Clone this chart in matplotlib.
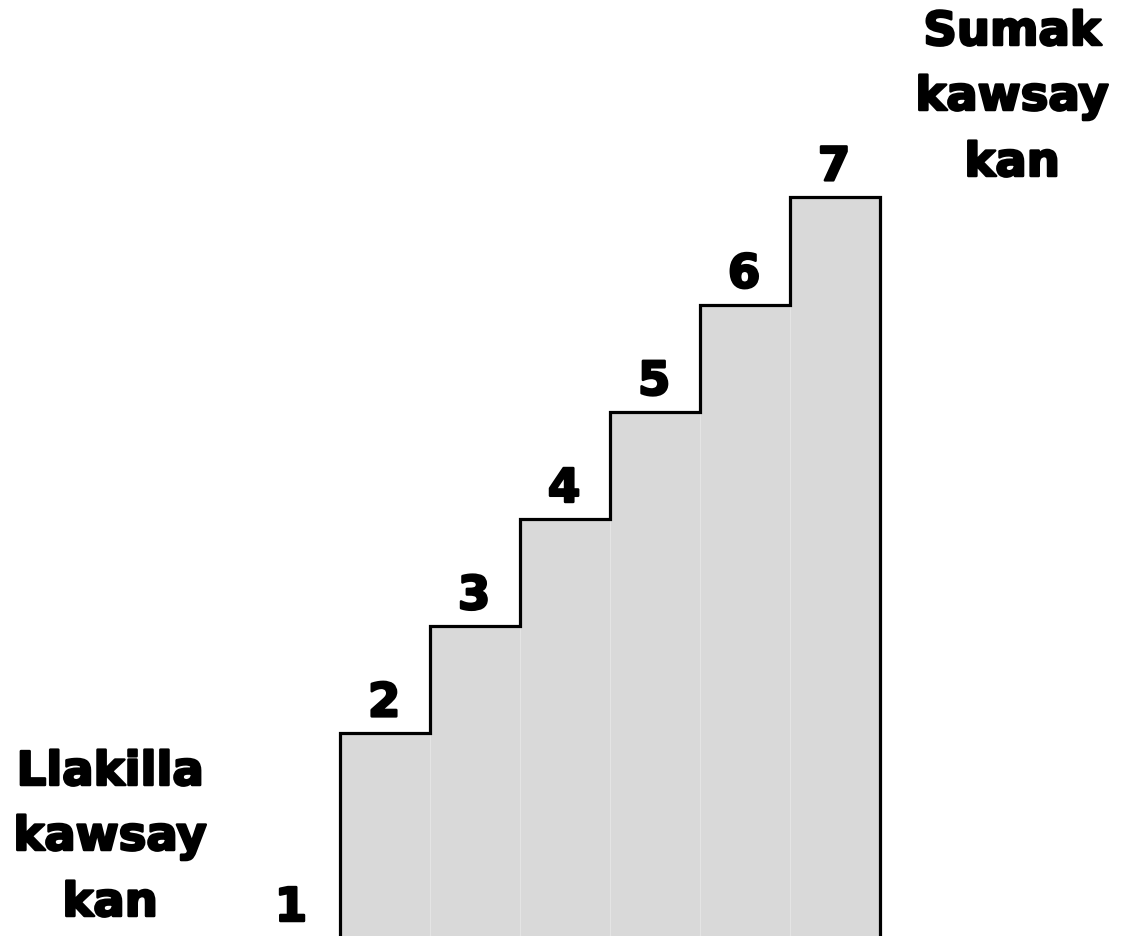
import matplotlib
matplotlib.use("Agg")
import matplotlib.pyplot as plt
import matplotlib.patheffects as pe

steps = [1, 2, 3, 4, 5, 6, 7]
levels = [1, 2, 3, 4, 5, 6, 7]
step_labels = ["1", "2", "3", "4", "5", "6", "7"]
left_lines = ["Llakilla", "kawsay", "kan"]
right_lines = ["Sumak", "kawsay", "kan"]

W, H = 1122, 937
fig = plt.figure(figsize=(W / 100, H / 100), dpi=100)
ax = fig.add_axes([0, 0, 1, 1])
ybase = 0.11
ax.set_xlim(-2.278, 10.189)
ax.set_ylim(ybase, 8.85)
ax.axis("off")

fam = "DejaVu Sans"
fs = 33.5
heavy = [pe.withStroke(linewidth=1.8, foreground="black")]

# bars for steps 2..7
bx = steps[1:]
bh = [l - ybase for l in levels[1:]]
ax.bar(bx, bh, width=1.0, bottom=ybase, color="#d9d9d9", edgecolor="#e4e4e4",
       linewidth=0.8, zorder=1)

# outline of the staircase
px = [bx[0] - 0.5]
py = [ybase]
for s, l in zip(bx, levels[1:]):
    px += [s - 0.5, s + 0.5]
    py += [l, l]
px.append(bx[-1] + 0.5)
py.append(ybase)
ax.plot(px, py, color="black", linewidth=2.3, solid_joinstyle="miter",
        solid_capstyle="butt", zorder=3)

# step number labels (baseline ~16 px above each step top)
unit_px = H / (8.85 - ybase)
for s, l, t in zip(steps, levels, step_labels):
    if s == 1:
        ax.text(291 / W, 1 - 922 / H, t, transform=ax.transAxes, ha="center",
                va="baseline", fontsize=fs, fontweight="bold", family=fam,
                zorder=4, path_effects=heavy)
    else:
        ax.text(s - 0.01, l + 17 / unit_px, t, ha="center", va="baseline",
                fontsize=fs, fontweight="bold", family=fam, zorder=4,
                path_effects=heavy)

# side texts, one line at a time (baselines in pixels)
for line, base in zip(left_lines, [786, 851, 917]):
    fig.text(110 / W, 1 - base / H, line, ha="center", va="baseline",
             fontsize=fs, fontweight="bold", family=fam, path_effects=heavy)
for line, base in zip(right_lines, [46, 111, 177]):
    fig.text(1012 / W, 1 - base / H, line, ha="center", va="baseline",
             fontsize=fs, fontweight="bold", family=fam, path_effects=heavy)

fig.savefig("out.png", dpi=100, facecolor="white")
